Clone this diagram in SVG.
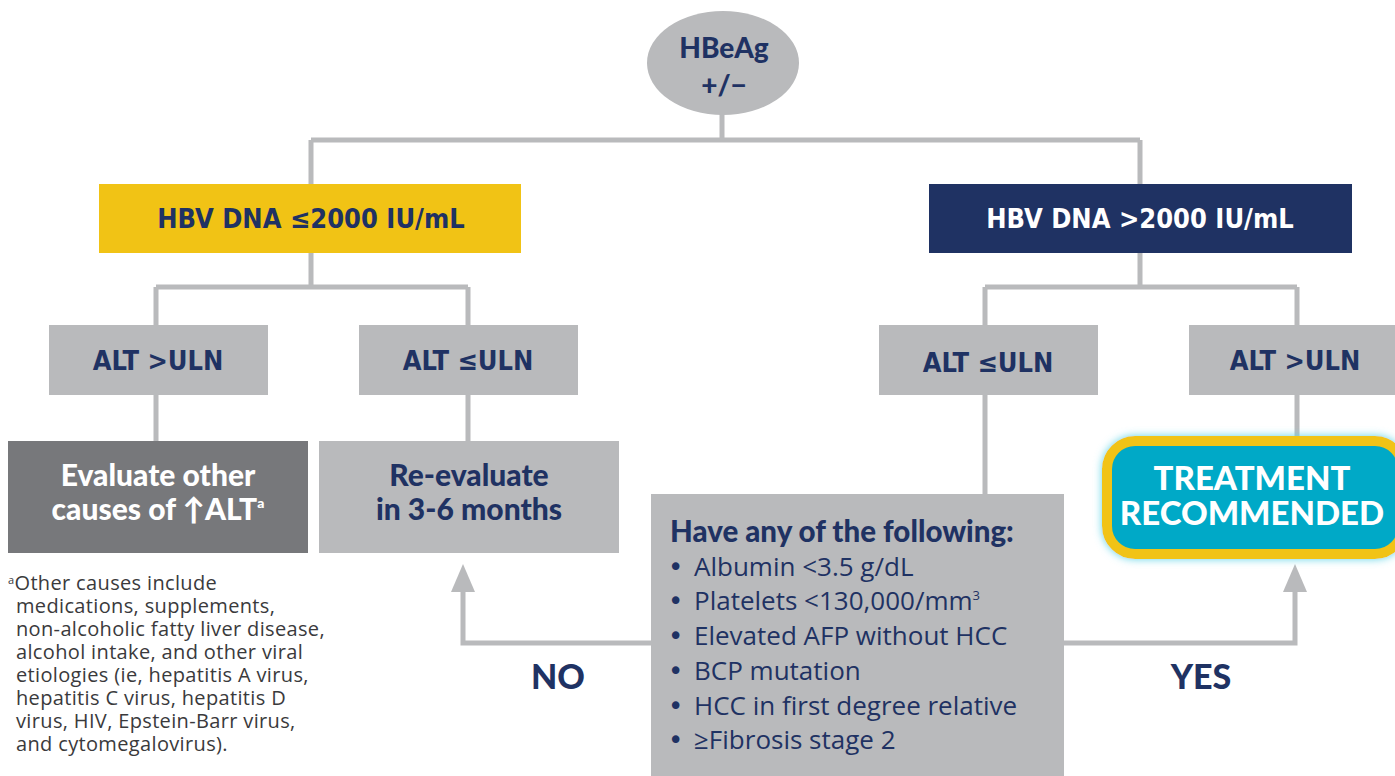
<svg xmlns="http://www.w3.org/2000/svg" width="1395" height="776" viewBox="0 0 1395 776">
<style>
.ln{stroke:#b9babc;stroke-width:5;fill:none}
.gb{fill:#b9babc}
.cond{font-family:"DejaVu Sans Condensed","DejaVu Sans",sans-serif;font-stretch:condensed;font-weight:bold;font-size:27px;text-anchor:middle}
.bx{font-family:Lato,"Open Sans",sans-serif;font-weight:900;text-anchor:middle}
.navy{fill:#1f3263}
.body{font-family:"Open Sans",Lato,sans-serif;fill:#1f3263;font-size:26px}
.bul{font-family:"DejaVu Sans",sans-serif;fill:#1f3263;font-size:26px}
.fn{font-family:"Open Sans",Lato,sans-serif;fill:#3a3a3c;font-size:20px;letter-spacing:0.35px}
</style>
<defs>
<filter id="glow" x="-20%" y="-30%" width="140%" height="160%">
<feGaussianBlur in="SourceAlpha" stdDeviation="5"/>
<feFlood flood-color="#5fd3e6"/>
<feComposite operator="in" in2="SourceAlpha"/>
<feGaussianBlur stdDeviation="4"/>
<feMerge><feMergeNode/><feMergeNode in="SourceGraphic"/></feMerge>
</filter>
</defs>
<g id="connectors">
<path class="ln" d="M722 110V140M311 140H1140M311 140V184M1140 140V184"/>
<path class="ln" d="M311 253V287M156 287H468M156 287V325M468 287V325"/>
<path class="ln" d="M1140 253V287M985 287H1297M985 287V325M1297 287V325"/>
<path class="ln" d="M156 395V441M468 395V441M985 395V494M1297 395V440"/>
<path class="ln" d="M651 643H463V590M1063 643H1295V590"/>
<polygon class="gb" points="463,564 451,592 475,592"/>
<polygon class="gb" points="1295,564 1283,592 1307,592"/>
</g>
<g id="hbeag">
<ellipse cx="723" cy="63" rx="76" ry="52" fill="#b9babc"/>
<text x="724" y="58" class="bx navy" font-size="28">HBeAg</text>
<text x="724" y="95" class="bx navy" font-size="28">+/−</text>
</g>
<g id="dna-low">
<rect x="99" y="184" width="422" height="69" fill="#f1c315"/>
<text x="311" y="228" class="cond navy">HBV DNA ≤2000 IU/mL</text>
</g>
<g id="dna-high">
<rect x="929" y="184" width="423" height="69" fill="#1f3263"/>
<text x="1140" y="228" class="cond" fill="#ffffff">HBV DNA &gt;2000 IU/mL</text>
</g>
<g id="alt-high-left">
<rect x="49" y="325" width="219" height="70" fill="#b9babc"/>
<text x="158" y="370" class="cond navy">ALT &gt;ULN</text>
</g>
<g id="alt-low-left">
<rect x="359" y="325" width="219" height="70" fill="#b9babc"/>
<text x="468" y="370" class="cond navy">ALT ≤ULN</text>
</g>
<g id="alt-low-right">
<rect x="879" y="325" width="219" height="70" fill="#b9babc"/>
<text x="988" y="372" class="cond navy">ALT ≤ULN</text>
</g>
<g id="alt-high-right">
<rect x="1189" y="325" width="206" height="70" fill="#b9babc"/>
<text x="1295" y="370" class="cond navy">ALT &gt;ULN</text>
</g>
<g id="evaluate">
<rect x="8" y="441" width="300" height="112" fill="#77787b"/>
<text x="158" y="486" class="bx" font-size="30" fill="#ffffff">Evaluate other</text>
<text x="158" y="520" class="bx" font-size="30" fill="#ffffff">causes of ↑ALT<tspan font-size="14" dy="-12">a</tspan></text>
</g>
<g id="reevaluate">
<rect x="319" y="441" width="300" height="112" fill="#b9babc"/>
<text x="469" y="486" class="bx navy" font-size="30">Re-evaluate</text>
<text x="469" y="520" class="bx navy" font-size="30">in 3-6 months</text>
</g>
<g id="treatment">
<rect x="1107" y="441" width="296" height="113" rx="28" fill="#00a9c7" stroke="#f1c315" stroke-width="10" filter="url(#glow)"/>
<text x="1252" y="490" class="bx" font-size="33" fill="#ffffff">TREATMENT</text>
<text x="1252" y="525" class="bx" font-size="33" fill="#ffffff">RECOMMENDED</text>
</g>
<g id="criteria">
<rect x="651" y="494" width="413" height="282" fill="#b9babc"/>
<text x="670" y="542" class="bx navy" font-size="29.5" style="text-anchor:start">Have any of the following:</text>
<g class="bul">
<text x="668" y="576">•</text>
<text x="668" y="610">•</text>
<text x="668" y="645">•</text>
<text x="668" y="680">•</text>
<text x="668" y="715">•</text>
<text x="668" y="749">•</text>
</g>
<g class="body">
<text x="694" y="576">Albumin &lt;3.5 g/dL</text>
<text x="694" y="610">Platelets &lt;130,000/mm<tspan font-size="13" dy="-10">3</tspan></text>
<text x="694" y="645">Elevated AFP without HCC</text>
<text x="694" y="680">BCP mutation</text>
<text x="694" y="715">HCC in first degree relative</text>
<text x="694" y="749">≥Fibrosis stage 2</text>
</g>
</g>
<g id="labels">
<text x="558" y="689" class="bx navy" font-size="34">NO</text>
<text x="1201" y="689" class="bx navy" font-size="34">YES</text>
</g>
<g id="footnote" class="fn">
<text x="8" y="590"><tspan font-size="11" dy="-6">a</tspan><tspan dy="6">Other causes include</tspan></text>
<text x="16" y="613">medications, supplements,</text>
<text x="16" y="636">non-alcoholic fatty liver disease,</text>
<text x="16" y="659">alcohol intake, and other viral</text>
<text x="16" y="682">etiologies (ie, hepatitis A virus,</text>
<text x="16" y="705">hepatitis C virus, hepatitis D</text>
<text x="16" y="728">virus, HIV, Epstein-Barr virus,</text>
<text x="16" y="751">and cytomegalovirus).</text>
</g>
</svg>
